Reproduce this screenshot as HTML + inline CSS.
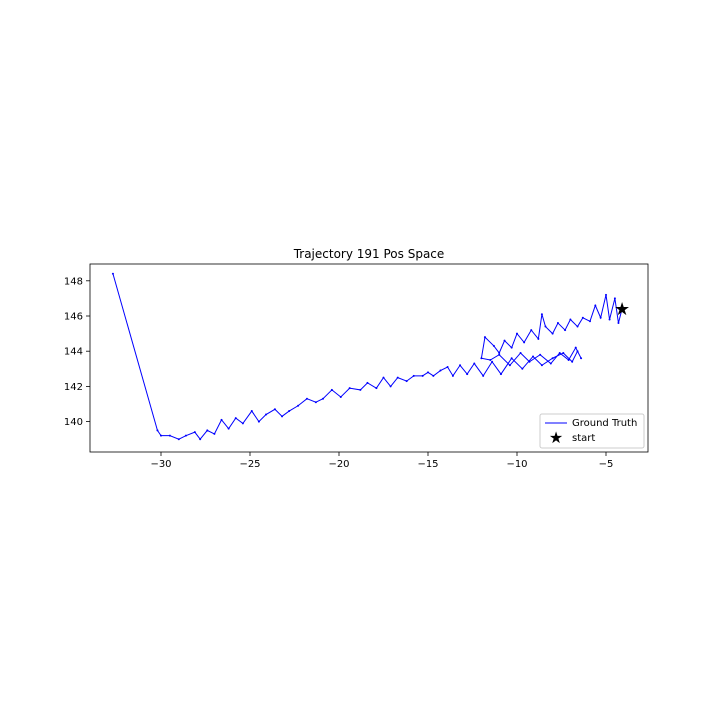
<!DOCTYPE html>
<html><head><meta charset="utf-8"><style>
body{margin:0;background:#fff;font-family:"Liberation Sans","DejaVu Sans",sans-serif;}
svg text{font-family:"DejaVu Sans","Liberation Sans",sans-serif;font-size:10px;fill:#000;}
</style></head><body>
<svg id="chart" width="720" height="720">
<rect width="720" height="720" fill="#fff"/>
<text x="369" y="258" text-anchor="middle" style="font-size:12px">Trajectory 191 Pos Space</text>
<g id="xt"></g><g id="yt"></g>
<g id="plot"></g>
<rect x="90" y="264" width="558" height="188" fill="none" stroke="#000" stroke-width="0.8"/>
<g>
<rect x="540" y="414" width="104" height="34" rx="2" fill="#fff" stroke="#ccc"/>
<line x1="545" y1="423" x2="567" y2="423" stroke="#00f" stroke-width="1"/>
<text x="572" y="426">Ground Truth</text>
<text x="556" y="443" text-anchor="middle" style="font-size:16px">★</text>
<text x="572" y="441">start</text>
</g>
</svg>
<script>
const xTicks=[-30,-25,-20,-15,-10,-5];
const yTicks=[140,142,144,146,148];
const trajX=[-4.1,-4.3,-4.5,-4.8,-5.0,-5.3,-5.6,-5.9,-6.3,-6.6,-7.0,-7.3,-7.7,-8.0,-8.4,-8.6,-8.8,-9.2,-9.6,-10.0,-10.3,-10.7,-11.0,-11.3,-11.8,-12.0,
-11.5,-11.0,-10.4,-9.8,-9.3,-8.7,-8.1,-7.6,-7.1,-6.7,-6.4,-6.6,-6.9,-7.4,-8.0,-8.6,-9.1,-9.7,-10.3,-10.9,-11.4,-11.9,-12.4,-12.8,-13.2,-13.6,-13.9,-14.3,-14.7,-15.0,-15.3,-15.8,-16.2,-16.7,-17.1,-17.5,-17.9,-18.4,-18.8,-19.4,-19.9,-20.4,-20.9,-21.3,-21.8,-22.3,-22.8,-23.2,-23.6,-24.1,-24.5,-24.9,-25.4,-25.8,-26.2,-26.6,-27.0,-27.4,-27.8,-28.1,-28.6,-29.0,-29.5,-30.0,-30.2,-32.7];
const trajY=[146.4,145.6,147.0,145.8,147.2,145.9,146.6,145.7,145.9,145.4,145.8,145.2,145.6,145.0,145.4,146.1,144.7,145.2,144.5,145.0,144.2,144.6,143.9,144.3,144.8,143.6,
143.5,143.8,143.2,143.9,143.4,143.8,143.3,143.9,143.5,144.2,143.6,144.0,143.4,143.9,143.6,143.2,143.7,143.0,143.6,142.7,143.4,142.6,143.3,142.7,143.2,142.6,143.1,142.9,142.6,142.8,142.6,142.6,142.3,142.5,142.0,142.5,141.9,142.2,141.8,141.9,141.4,141.8,141.3,141.1,141.3,140.9,140.6,140.3,140.7,140.4,140.0,140.6,139.9,140.2,139.6,140.1,139.3,139.5,139.0,139.4,139.2,139.0,139.2,139.2,139.5,148.4];
const startPt=[-4.1,146.4];
const sx=v=>339+(v+20)*17.8;
const sy=v=>316-(v-146)*17.6;
const NS="http://www.w3.org/2000/svg";
function mk(t,a,p){const e=document.createElementNS(NS,t);for(const k in a)e.setAttribute(k,a[k]);p.appendChild(e);return e;}
const xt=document.getElementById('xt'),yt=document.getElementById('yt'),plot=document.getElementById('plot');
xTicks.forEach(v=>{const x=sx(v);
const l=mk('line',{x1:x,x2:x,y1:452,y2:456,stroke:'#000','stroke-width':0.8},xt);


const t=mk('text',{x:x,y:467,'text-anchor':'middle'},xt);t.textContent='\u2212'+Math.abs(v);

});
yTicks.forEach(v=>{const y=sy(v);
const l=mk('line',{x1:86,x2:90,y1:y,y2:y,stroke:'#000','stroke-width':0.8},yt);


const t=mk('text',{x:83,y:y+3.5,'text-anchor':'end'},yt);t.textContent=v;

});
const pts=trajX.map((x,i)=>sx(x)+','+sy(trajY[i])).join(' ');
const pl=mk('polyline',{points:pts,fill:'none',stroke:'#00f','stroke-width':1},plot);


trajX.forEach((x,i)=>{const c=mk('circle',{cx:sx(x),cy:sy(trajY[i]),r:1,fill:'#00f'},plot);

});
const s=mk('text',{x:sx(startPt[0]),y:sy(startPt[1])+6,'text-anchor':'middle',style:'font-size:18px'},plot);s.textContent='★';


</script>
</body></html>
